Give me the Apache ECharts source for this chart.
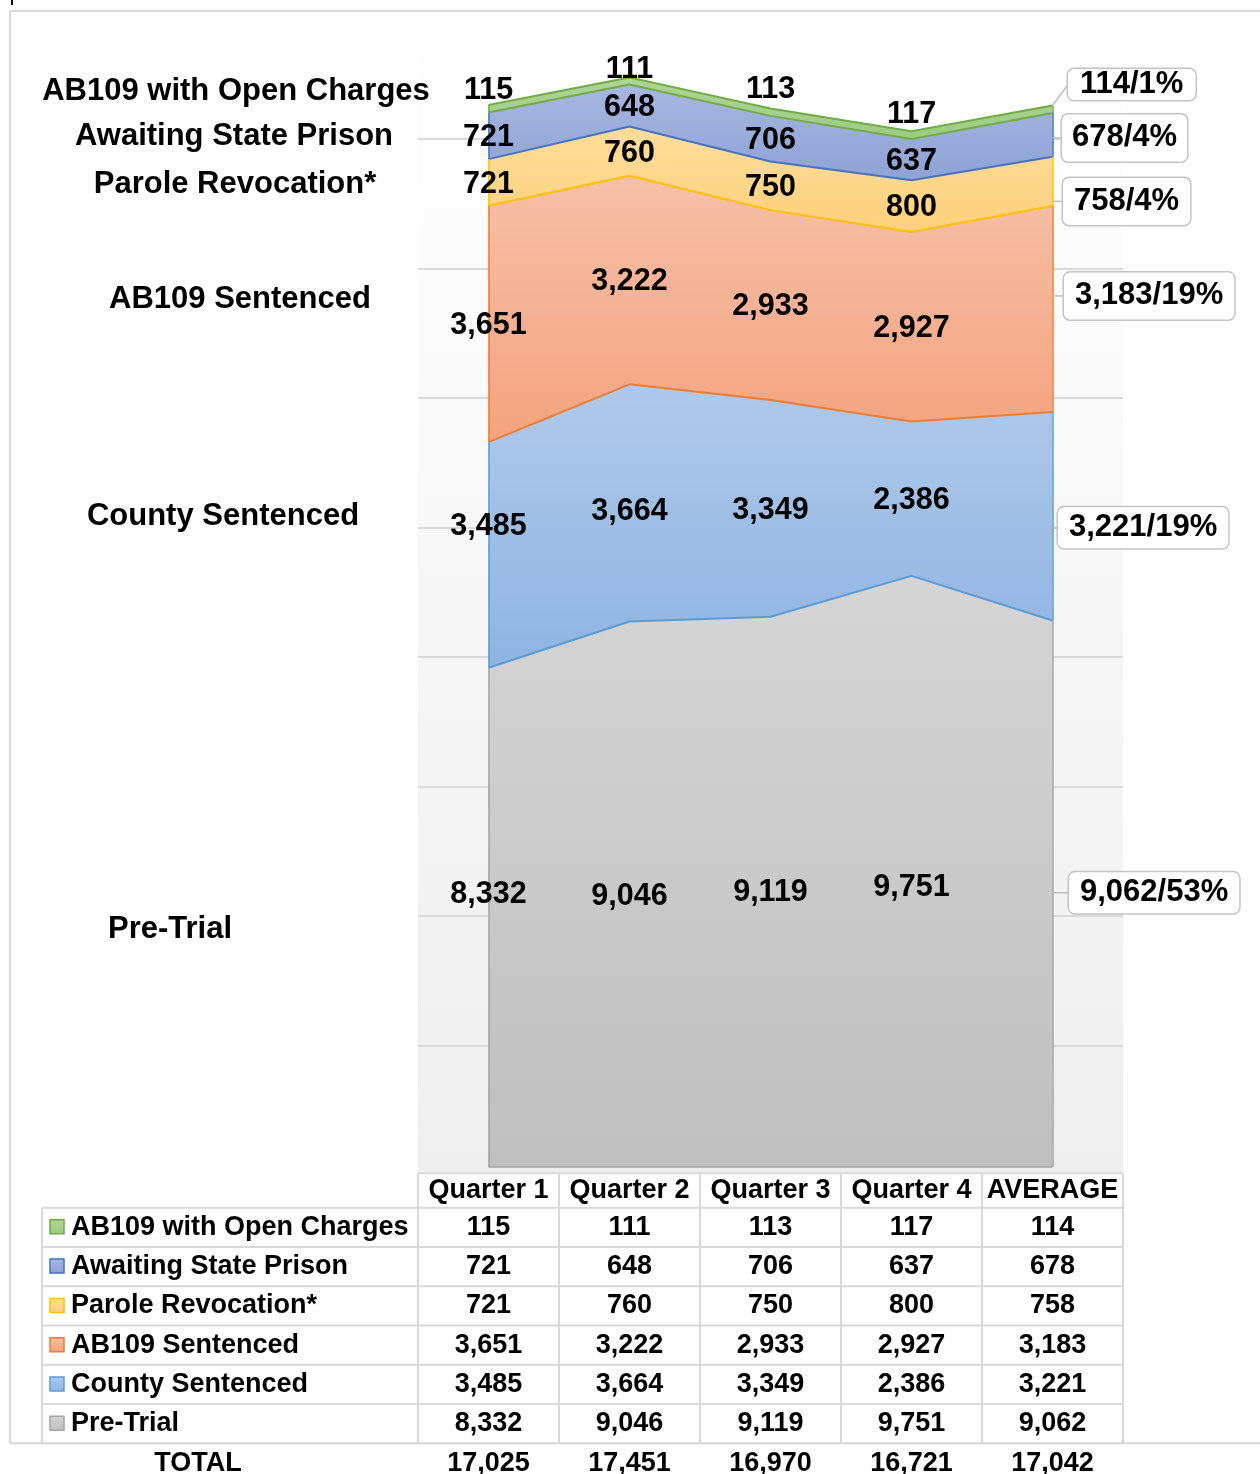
<!DOCTYPE html>
<html><head><meta charset="utf-8">
<script src="https://cdn.jsdelivr.net/npm/echarts@6/dist/echarts.min.js"></script>
<style>html,body{margin:0;padding:0;background:#fff}#c{width:1260px;height:1474px}</style>
</head><body><div id="c"></div>
<script>
// ---------------- DATA ----------------
const categories = ['Quarter 1', 'Quarter 2', 'Quarter 3', 'Quarter 4', 'AVERAGE'];
const seriesNames = ['Pre-Trial', 'County Sentenced', 'AB109 Sentenced', 'Parole Revocation*', 'Awaiting State Prison', 'AB109 with Open Charges'];
const preTrial = [8332, 9046, 9119, 9751, 9062];
const countySentenced = [3485, 3664, 3349, 2386, 3221];
const ab109Sentenced = [3651, 3222, 2933, 2927, 3183];
const paroleRevocation = [721, 760, 750, 800, 758];
const awaitingStatePrison = [721, 648, 706, 637, 678];
const ab109OpenCharges = [115, 111, 113, 117, 114];
const totals = [17025, 17451, 16970, 16721, 17042];
const totalLabel = 'TOTAL';

// ---------------- STYLE ----------------
const FONT = '"Liberation Sans", Arial, Helvetica, sans-serif';
const yMin = 620, yMax = 18500;
const stackOrder = [preTrial, countySentenced, ab109Sentenced, paroleRevocation, awaitingStatePrison, ab109OpenCharges];
const fills = [
  ['#d5d5d5', '#bfbfbf'],
  ['#b0c9e9', '#8fb4e2'],
  ['#f6c0a8', '#f4a37f'],
  ['#fedd9a', '#fdd17c'],
  ['#a8b7e0', '#8ea2d6'],
  ['#b0d498', '#9ecb82']
];
const edgeColors = ['#a5a5a5', '#5b9bd5', '#ed7d31', '#ffc000', '#4472c4', '#70ad47'];
// vertical label nudges in px (Q1..Q4, AVERAGE)
const labelNudgeY = [
  [-23, 2, 1, 16, -1],
  [-28, 9, 2, 2, 11.5],
  [2, 2, 2, 2, -13],
  [2, 2, 2, 2, 20],
  [2, 2, 2, 2, 3],
  [-14, -8, -19, -17, -21]
];
const avgGap = [16.5, 5.5, 11.5, 10.5, 9.5, 15.5];
const avgPad = [[5, 11], [5, 11], [8, 11], [8, 11], [8, 10], [0, 12]];

const grad = (a, b) => new echarts.graphic.LinearGradient(0, 0, 0, 1, [{offset: 0, color: a}, {offset: 1, color: b}]);
const fmt = v => v.toLocaleString('en-US');

const chart = echarts.init(document.getElementById('c'), null, {renderer: 'canvas'});

function stackBottom(i, j) { let b = 0; for (let k = 0; k < i; k++) b += stackOrder[k][j]; return b; }

const last = categories.length - 1;
const areaSeries = stackOrder.map((d, i) => {
  const edges = [];
  [0, last].forEach(j => {
    const b = Math.max(stackBottom(i, j), yMin);
    edges.push([{coord: [j, b]}, {coord: [j, stackBottom(i, j) + d[j]]}]);
  });
  if (i === 0) edges.push([{coord: [0, yMin]}, {coord: [last, yMin]}]);
  return {
    name: seriesNames[i], type: 'line', stack: 'total', data: d, symbol: 'none',
    lineStyle: {color: edgeColors[Math.min(i + 1, edgeColors.length - 1)], width: 2},
    areaStyle: {color: grad(fills[i][0], fills[i][1]), opacity: 1},
    z: 2, silent: true,
    markLine: {silent: true, symbol: 'none', label: {show: false}, animation: false,
      lineStyle: {color: edgeColors[i], width: 1.5, type: 'solid'}, data: edges}
  };
});

// label items: [categoryIndex, anchorValue, seriesIndex, value, segBottom, segTop]
const avgTotal = totals[last];
const labelItems = [];
stackOrder.forEach((d, i) => {
  const topSeries = i === stackOrder.length - 1;
  d.forEach((v, j) => {
    const bottom = Math.max(stackBottom(i, j), yMin), top = stackBottom(i, j) + v;
    const anchor = topSeries ? top : (bottom + top) / 2;
    labelItems.push([j, anchor, i, v, bottom, top]);
  });
});

const labelSeries = {
  type: 'custom', name: 'labels', coordinateSystem: 'cartesian2d', z: 10, silent: true, clip: false,
  data: labelItems,
  renderItem: (params, api) => {
    const j = api.value(0), anchor = api.value(1), i = api.value(2), v = api.value(3);
    const p = api.coord([j, anchor]);
    const font = 'bold 30.5px ' + FONT;
    if (j !== last) {
      return {type: 'text', x: p[0], y: p[1] + labelNudgeY[i][j],
        style: {text: fmt(v), fill: '#000', font, align: 'center', verticalAlign: 'middle'}};
    }
    const ly = p[1] + labelNudgeY[i][last];
    const segB = api.coord([j, api.value(4)])[1], segT = api.coord([j, api.value(5)])[1];
    const sy = Math.min(Math.max(ly, segT), segB);
    const bx = p[0] + avgGap[i];
    return {type: 'group', children: [
      {type: 'polyline', shape: {points: [[p[0], sy], [bx - (sy === ly ? 0 : 0), ly]]}, style: {stroke: '#bfbfbf', lineWidth: 1.5, fill: null}},
      {type: 'text', x: bx, y: ly,
        style: {text: fmt(v) + '/' + Math.round(v / avgTotal * 100) + '%', fill: '#000', font: 'bold 31px ' + FONT,
          align: 'left', verticalAlign: 'middle', backgroundColor: '#ffffff', borderColor: '#c4c4c4',
          borderWidth: 1.5, borderRadius: 6, padding: avgPad[i]}}
    ]};
  }
};

chart.setOption({
  animation: false,
  backgroundColor: '#ffffff',
  grid: {left: 418, right: 137, top: 9.5, bottom: 307, show: true, borderWidth: 0,
    backgroundColor: grad('#ffffff', '#efefef')},
  xAxis: {type: 'category', data: categories, boundaryGap: true, show: false},
  yAxis: [
    {type: 'value', min: yMin, max: yMax, show: false},
    {type: 'value', inverse: true, min: 0, max: yMax - yMin, interval: 2000,
      axisLine: {show: false}, axisTick: {show: false}, axisLabel: {show: false},
      splitLine: {show: true, showMinLine: false, showMaxLine: false, lineStyle: {color: '#d9d9d9', width: 2}}}
  ],
  series: [...areaSeries, labelSeries]
});

// ---------------- TEXT / TABLE (graphic) ----------------
const centers = categories.map(c => chart.convertToPixel({xAxisIndex: 0}, c));
const half = (centers[1] - centers[0]) / 2;
const colEdges = [centers[0] - half].concat(centers.map(c => c + half));
const gridBottomPx = chart.convertToPixel({yAxisIndex: 0}, yMin);
const G = [];
const LC = '#d9d9d9';
const ln = (x1, y1, x2, y2, c, w, z) => ({type: 'line', silent: true, z: z || 50, shape: {x1, y1, x2, y2}, style: {stroke: c, lineWidth: w}});
const tx = (x, y, t, size, align) => ({type: 'text', silent: true, z: 60, x, y,
  style: {text: t, fill: '#000', font: 'bold ' + size + 'px ' + FONT, textAlign: align || 'center', textVerticalAlign: 'middle', align: align || 'center', verticalAlign: 'middle'}});

// chart border
G.push(ln(10, 11, 1260, 11, LC, 2));
G.push(ln(10, 11, 10, 1443.3, LC, 2));
G.push(ln(10, 1443.3, 1260, 1443.3, LC, 2));
G.push(ln(12, 0, 12, 5, '#000', 2));
// plot background below area to table
G.push({type: 'rect', silent: true, z: 1, shape: {x: colEdges[0], y: gridBottomPx, width: colEdges[last + 1] - colEdges[0], height: 1173.3 - gridBottomPx}, style: {fill: '#efefef'}});

// left series-name labels
const nameLabelPos = [[170, 929], [223, 516], [240, 299], [235, 184], [234, 136.5], [236, 91]];
seriesNames.forEach((n, i) => G.push(tx(nameLabelPos[i][0], nameLabelPos[i][1], n, 31, 'center')));

// data table
const tableTop = 1173.3, headTop = 1207.7, rowH = 39.27, labelLeft = 42;
const rowOrder = [5, 4, 3, 2, 1, 0];
const tableBottom = headTop + rowH * rowOrder.length;
G.push(ln(colEdges[0], tableTop, colEdges[last + 1], tableTop, LC, 2));
for (let r = 0; r <= rowOrder.length; r++) {
  const y = headTop + r * rowH;
  G.push(ln(labelLeft, y, colEdges[last + 1], y, LC, 2));
}
G.push(ln(labelLeft, headTop, labelLeft, tableBottom, LC, 2));
colEdges.forEach(x => G.push(ln(x, tableTop, x, tableBottom, LC, 2)));
categories.forEach((c, j) => G.push(tx(centers[j], (tableTop + headTop) / 2, c, 27)));
rowOrder.forEach((si, r) => {
  const cy = headTop + r * rowH + rowH / 2;
  G.push({type: 'rect', silent: true, z: 60, shape: {x: 50, y: cy - 7.5, width: 14, height: 14},
    style: {fill: grad(fills[si][0], fills[si][1]), stroke: edgeColors[si], lineWidth: 1.5}});
  G.push(tx(71, cy, seriesNames[si], 27, 'left'));
  stackOrder[si].forEach((v, j) => G.push(tx(centers[j], cy, fmt(v), 27)));
});
// totals row
G.push(tx(198, 1463.5, totalLabel, 27));
totals.forEach((t, j) => G.push(tx(centers[j], 1463.5, fmt(t), 27)));

chart.setOption({graphic: G});
</script>
</body></html>
